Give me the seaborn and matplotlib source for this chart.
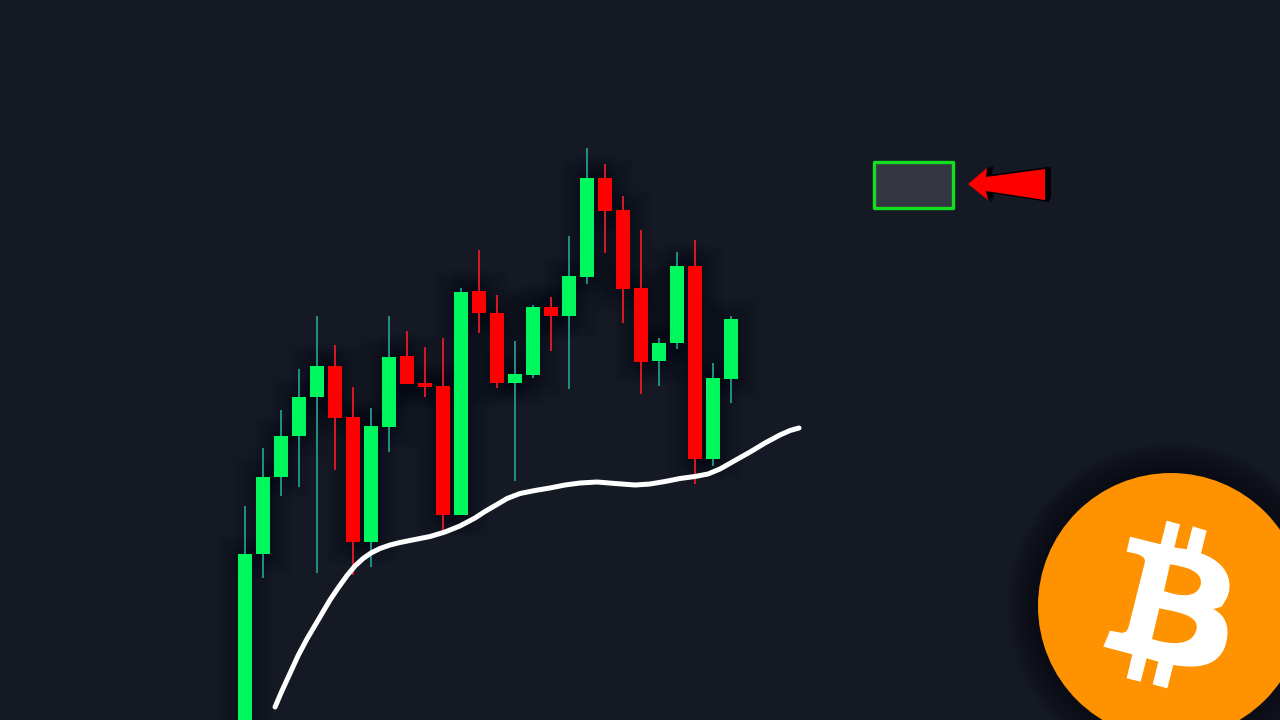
import matplotlib
matplotlib.use("Agg")
import matplotlib.pyplot as plt
import matplotlib.patheffects as pe
from matplotlib.patches import Circle, PathPatch, Polygon, Rectangle
from matplotlib.path import Path
import pandas as pd
import seaborn as sns

# candles: 1 = up (green), 0 = down (red)
up = [1,1,1,1,1,0,0,1,1,0,0,0,1,0,0,1,1,0,1,1,0,0,0,1,1,0,1,1]
body_top = [166,243,284,323,354,354,303,294,363,364,337,334,428,429,407,346,413,413,444,542,542,510,432,377,454,454,342,401]
body_bot = [-10,166,243,284,323,302,178,178,293,336,333,205,205,407,337,337,345,404,404,443,509,431,358,359,377,261,261,341]
high = [214,272,310,351,404,375,333,312,404,389,373,382,432,470,425,379,415,423,484,572,556,524,490,382,468,480,357,404]
low = [-10,142,224,233,147,250,145,153,268,336,323,188,205,387,332,239,342,369,331,436,467,397,326,334,371,236,254,317]

# moving average
ma_bar = [1.67,2.0,2.33,2.61,2.94,3.44,4.0,4.72,5.17,5.67,6.11,6.56,7.0,7.5,8.06,8.61,9.44,10.28,11.11,11.94,
          12.78,13.33,14.0,14.56,15.28,16.11,16.94,17.78,18.61,19.56,20.56,21.67,22.5,23.33,24.17,25.0,25.72,
          26.39,27.22,28.06,28.89,29.72,30.28,30.78]
ma_price = [13,27,40,51,64,81,98,120,132,144.5,154,161.5,167,171.5,175,177.5,180.5,183.5,188,194,
            202,208.5,215.5,221.5,226.5,229.5,232,235,237,238,236.5,235,236,238.5,241.5,243.5,246,
            251,259.5,268,277,285,289.5,292]

BG = "#151924"
GREEN, RED = "#00F85F", "#FF0000"
WICK_G, WICK_R = "#22A08F", "#EE1C2C"

sns.set_theme(style="dark", rc={"figure.facecolor": BG, "axes.facecolor": BG})
fig = plt.figure(figsize=(12.8, 7.2), dpi=100)
ax = fig.add_axes([0, 0, 1, 1])

df = pd.DataFrame({"bar": range(len(up)), "up": up, "top": body_top, "bot": body_bot, "high": high, "low": low})
df["height"] = df["top"] - df["bot"]

# soft shadow layer under every candle
halo = [pe.Stroke(linewidth=w, foreground="#05070c", alpha=0.025) for w in (32, 28, 24, 20, 16, 12, 8, 4)]
n0 = len(ax.patches)
sns.barplot(data=df, x="bar", y="height", bottom=df["bot"].to_numpy(), native_scale=True,
            width=0.78, color=BG, saturation=1, errorbar=None, linewidth=0, ax=ax, zorder=1)
for p in ax.patches[n0:]:
    p.set_path_effects(halo)

for flag, body, wick in ((1, GREEN, WICK_G), (0, RED, WICK_R)):
    part = df[df["up"] == flag]
    sns.barplot(data=part, x="bar", y="height", bottom=part["bot"].to_numpy(), native_scale=True,
                width=0.78, color=body, saturation=1, errorbar=None, linewidth=0, ax=ax, zorder=3)
    ax.vlines(part["bar"], part["low"], part["high"], color=wick, lw=1.25, zorder=2)

sns.lineplot(x=ma_bar, y=ma_price, color="white", lw=3.6, sort=False, errorbar=None, ax=ax, zorder=4,
             solid_capstyle="round", solid_joinstyle="round")

ax.set_xlim(-245 / 18, 1035 / 18)
ax.set_ylim(0, 720)
ax.set_axis_off()

# overlay in picture coordinates: marker box, arrow, logo
ov = fig.add_axes([0, 0, 1, 1], facecolor="none")
ov.set_xlim(0, 1280)
ov.set_ylim(720, 0)
ov.set_axis_off()

ov.add_patch(Rectangle((874, 162), 78.5, 45.5, fc="#343741", ec="#12E01E", lw=2.4, joinstyle="round"))

arrow = [(968,184),(987,168),(986,177),(1045,169),(1045,200),(986,191),(988,200)]
for dx, dy in ((6,-2),(5,0),(4,2),(3,-2)):
    ov.add_patch(Polygon([(x+dx, y+dy) for x, y in arrow], fc="#000000", ec="none"))
ov.add_patch(Polygon(arrow, fc="#FF0000", ec="none"))

cx, cy, r = 1171, 606, 133
for extra in range(30, 0, -3):
    ov.add_patch(Circle((cx, cy), r + extra, fc="#05070c", ec="none", alpha=0.08))
ov.add_patch(Circle((cx, cy), r, fc="#FF9200", ec="none"))


def logo_path(cmds):
    verts, codes = [], []
    for c in cmds:
        if len(c) == 2:
            verts.append(c)
            codes.append(Path.LINETO if verts[:-1] else Path.MOVETO)
        else:
            verts.extend([(c[0], c[1]), (c[2], c[3]), (c[4], c[5])])
            codes.extend([Path.CURVE4] * 3)
    verts.append(verts[0])
    codes.append(Path.CLOSEPOLY)
    return Path([(1030 + u / 3, 465 + v / 3) for u, v in verts], codes)


glyph = [(300,215),(392,238),(410,167),(450,178),(433,247),(470,253),(488,184),(530,197),(513,265),
         (600,295,610,360,590,400),(575,425),(550,432),(595,455,600,500,585,545),(560,610,490,610,430,600),
         (412,670),(368,658),(385,590),(350,580),(332,650),(290,640),(307,568),(220,545),(240,497),(272,503),
         (290,505,292,495,296,485),(345,290),(345,275,330,270,318,266),(290,260)]
hole1 = [(420,298),(402,378),(450,395,500,400,512,360),(520,320,470,305,420,298)]
hole2 = [(388,430),(366,522),(420,540,490,545,500,490),(505,450,440,440,388,430)]
ov.add_patch(PathPatch(logo_path(glyph), fc="white", ec="none"))
ov.add_patch(PathPatch(logo_path(hole1), fc="#FF9200", ec="none"))
ov.add_patch(PathPatch(logo_path(hole2), fc="#FF9200", ec="none"))

fig.savefig("out.png", dpi=100, facecolor=BG)
